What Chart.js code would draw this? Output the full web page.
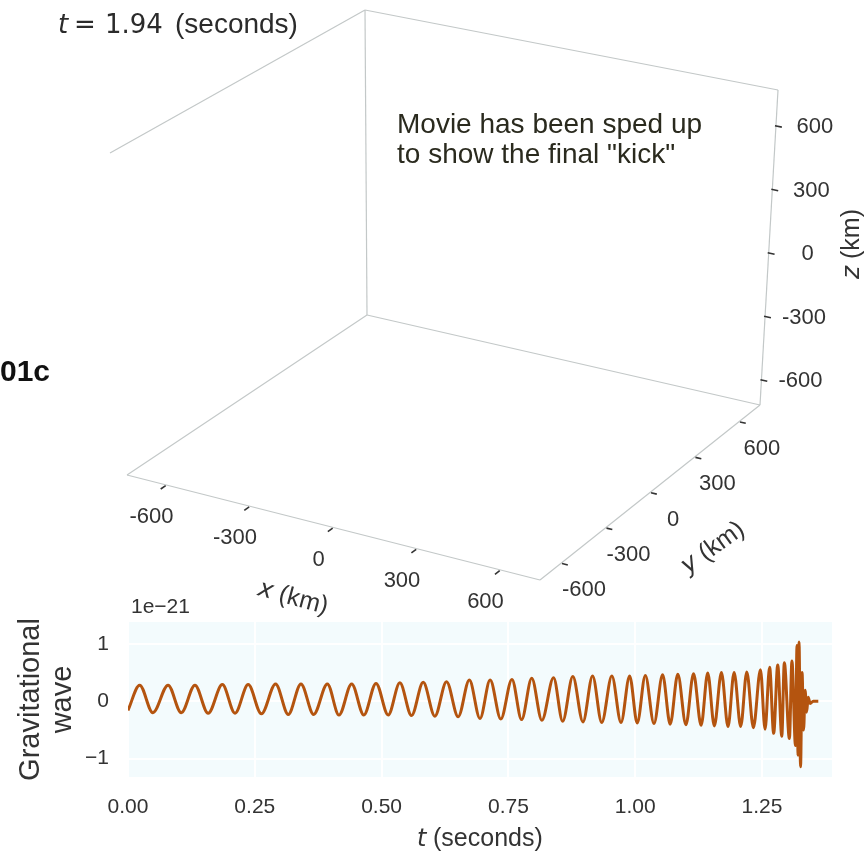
<!DOCTYPE html>
<html>
<head>
<meta charset="utf-8">
<script src="https://cdn.jsdelivr.net/npm/chart.js@4.4.0/dist/chart.umd.min.js"></script>
<style>
  html, body { margin: 0; padding: 0; background: #fff; }
  #wrap { position: relative; width: 865px; height: 853px; }
</style>
</head>
<body>
<div id="wrap"><canvas id="c" width="865" height="853"></canvas></div>
<script>
// strain trace (units of 1e-21) against time in seconds, one point per crest / trough
const waveT = [
  0, 0.023, 0.049, 0.079, 0.105, 0.132, 0.158, 0.186, 0.211, 0.237,
  0.263, 0.291, 0.316, 0.341, 0.366, 0.393, 0.416, 0.441, 0.465, 0.489,
  0.513, 0.536, 0.559, 0.582, 0.605, 0.628, 0.651, 0.673, 0.694, 0.714,
  0.735, 0.757, 0.776, 0.796, 0.816, 0.839, 0.857, 0.877, 0.897, 0.916,
  0.934, 0.954, 0.972, 0.989, 1.004, 1.020, 1.037, 1.054, 1.069, 1.084,
  1.100, 1.115, 1.130, 1.143, 1.156, 1.170, 1.183, 1.195, 1.208, 1.220,
  1.233, 1.247, 1.256, 1.265, 1.273, 1.281, 1.289, 1.294, 1.304, 1.309,
  1.316, 1.319, 1.321, 1.323, 1.326, 1.329, 1.332, 1.335, 1.338, 1.341,
  1.345, 1.351, 1.361
];
const waveH = [
  -0.16, 0.28, -0.20, 0.28, -0.20, 0.28, -0.21, 0.29, -0.21, 0.29,
  -0.22, 0.30, -0.23, 0.30, -0.23, 0.30, -0.24, 0.30, -0.24, 0.31,
  -0.24, 0.32, -0.25, 0.33, -0.26, 0.34, -0.27, 0.37, -0.30, 0.37,
  -0.31, 0.38, -0.32, 0.40, -0.33, 0.41, -0.35, 0.43, -0.36, 0.44,
  -0.37, 0.44, -0.37, 0.44, -0.38, 0.45, -0.39, 0.46, -0.40, 0.47,
  -0.41, 0.48, -0.42, 0.49, -0.43, 0.50, -0.44, 0.50, -0.44, 0.51,
  -0.46, 0.55, -0.49, 0.59, -0.56, 0.63, -0.61, 0.67, -0.65, 0.70,
  -0.77, 0.97, -0.94, 1.03, -1.14, 0.50, -0.50, 0.19, -0.19, 0.07,
  -0.04, 0, 0
];
const timeTicks = [0, 0.25, 0.5, 0.75, 1.0, 1.25];
const strainTicks = [-1, 0, 1];

// 3d box (km)
const kmTicks = [-600, -300, 0, 300, 600];
const xLim = [-742, 742];
const yLim = [-742, 742];
const zLim = [-718, 770];

Chart.defaults.font.family = "'Liberation Sans', Arial, sans-serif";
Chart.defaults.color = "#333";

const SANS = "'Liberation Sans', Arial, sans-serif";
const MATH = "'DejaVu Sans', sans-serif";

// screen position of each box corner, key = x,y,z end (0 low, 1 high)
const boxCorners = {
  "000": [127, 475], "100": [540, 580], "110": [760, 405], "010": [367, 315],
  "001": [110, 153], "101": [523, 258], "111": [778, 90], "011": [365, 10]
};
const boxEdges = [
  ["011", "001"], ["011", "111"], ["011", "010"], ["111", "110"],
  ["010", "110"], ["010", "000"], ["000", "100"], ["100", "110"]
];

function project(x, y, z) {
  const u = (x - xLim[0]) / (xLim[1] - xLim[0]);
  const v = (y - yLim[0]) / (yLim[1] - yLim[0]);
  const w = (z - zLim[0]) / (zLim[1] - zLim[0]);
  let px = 0, py = 0;
  for (const k in boxCorners) {
    const wt = (k[0] === "1" ? u : 1 - u) * (k[1] === "1" ? v : 1 - v) * (k[2] === "1" ? w : 1 - w);
    px += wt * boxCorners[k][0];
    py += wt * boxCorners[k][1];
  }
  return [px, py];
}

function unit(a, b) {
  const dx = b[0] - a[0], dy = b[1] - a[1];
  const n = Math.hypot(dx, dy);
  return [dx / n, dy / n];
}

// text made of pieces, some italic; drawn centred on (cx, cy) after rotation
function mixedText(ctx, parts, cx, cy, size, angle) {
  ctx.save();
  ctx.translate(cx, cy);
  ctx.rotate(angle);
  ctx.textBaseline = "middle";
  ctx.textAlign = "left";
  const fontOf = p => (p.italic ? "italic " + size + "px " + MATH : size + "px " + SANS);
  let total = 0;
  const widths = parts.map(p => {
    ctx.font = fontOf(p);
    const w = ctx.measureText(p.text).width;
    total += w;
    return w;
  });
  let x = -total / 2;
  parts.forEach((p, i) => {
    ctx.font = fontOf(p);
    ctx.fillText(p.text, x, 0);
    x += widths[i];
  });
  ctx.restore();
}

const plotBackground = {
  id: "plotBackground",
  beforeDraw(chart) {
    const { ctx, chartArea: a } = chart;
    ctx.save();
    ctx.fillStyle = "#f3fbfd";
    ctx.fillRect(a.left, a.top, a.right - a.left, a.bottom - a.top);
    ctx.restore();
  }
};

const boxAndText = {
  id: "boxAndText",
  afterDraw(chart) {
    const ctx = chart.ctx;
    ctx.save();

    // pane edges
    ctx.strokeStyle = "#c3c8c8";
    ctx.lineWidth = 1.2;
    boxEdges.forEach(([a, b]) => {
      ctx.beginPath();
      ctx.moveTo(boxCorners[a][0], boxCorners[a][1]);
      ctx.lineTo(boxCorners[b][0], boxCorners[b][1]);
      ctx.stroke();
    });

    ctx.strokeStyle = "#333";
    ctx.lineWidth = 1.6;
    ctx.fillStyle = "#333";
    ctx.font = "22px " + SANS;
    ctx.textAlign = "center";
    ctx.textBaseline = "middle";

    // x axis along the front bottom edge
    kmTicks.forEach(v => {
      const p = project(v, yLim[0], zLim[0]);
      const d = unit(p, project(v, yLim[0] - 100, zLim[0]));
      ctx.beginPath();
      ctx.moveTo(p[0] + d[0], p[1] + d[1]);
      ctx.lineTo(p[0] + d[0] * 7, p[1] + d[1] * 7);
      ctx.stroke();
      ctx.fillText(String(v), p[0] - 15, p[1] + 32);
    });
    // y axis along the right bottom edge
    kmTicks.forEach(v => {
      const p = project(xLim[1], v, zLim[0]);
      const d = unit(p, project(xLim[1] + 100, v, zLim[0]));
      ctx.beginPath();
      ctx.moveTo(p[0] + d[0], p[1] + d[1]);
      ctx.lineTo(p[0] + d[0] * 7, p[1] + d[1] * 7);
      ctx.stroke();
      ctx.fillText(String(v), p[0] + 23, p[1] + 27);
    });
    // z axis on the back right edge
    kmTicks.forEach(v => {
      const p = project(xLim[1], yLim[1], v);
      const d = unit(p, project(xLim[1] + 100, yLim[1], v));
      ctx.beginPath();
      ctx.moveTo(p[0] - d[0], p[1] - d[1]);
      ctx.lineTo(p[0] + d[0] * 6, p[1] + d[1] * 6);
      ctx.stroke();
      ctx.fillText(String(v), p[0] + 39, p[1] + 1);
    });

    mixedText(ctx, [{ text: "x", italic: true }, { text: " (km)" }], 293, 598, 25, 15 * Math.PI / 180);
    mixedText(ctx, [{ text: "y", italic: true }, { text: " (km)" }], 713, 548, 25, -36 * Math.PI / 180);
    mixedText(ctx, [{ text: "z", italic: true }, { text: " (km)" }], 852, 244, 25, -Math.PI / 2);

    // time stamp
    ctx.fillStyle = "#2b2b2b";
    ctx.textAlign = "left";
    ctx.textBaseline = "alphabetic";
    ctx.font = "italic 26px " + MATH;
    ctx.fillText("t", 58, 33);
    ctx.font = "26px " + MATH;
    ctx.fillText("=", 74, 33);
    ctx.fillText("1.94", 105, 33);
    ctx.font = "28px " + SANS;
    ctx.fillText("(seconds)", 175, 33);

    // note inside the box
    ctx.fillStyle = "#2a2a1e";
    ctx.fillText("Movie has been sped up", 397, 133);
    ctx.fillText("to show the final \"kick\"", 397, 163);

    // run tag
    ctx.fillStyle = "#111";
    ctx.font = "bold 30px " + SANS;
    ctx.fillText("01c", 0, 381);

    // strain scale and time axis title
    ctx.fillStyle = "#333";
    ctx.font = "21px " + SANS;
    ctx.textBaseline = "middle";
    ctx.fillText("1e\u221221", 131, 607);
    ctx.textBaseline = "alphabetic";
    ctx.font = "italic 24px " + MATH;
    ctx.fillText("t", 417, 846);
    ctx.font = "25px " + SANS;
    ctx.fillText("(seconds)", 433, 846);

    ctx.restore();
  }
};

const ctx = document.getElementById("c").getContext("2d");
new Chart(ctx, {
  type: "line",
  data: {
    datasets: [{
      data: waveT.map((t, i) => ({ x: t, y: waveH[i] })),
      borderColor: "#b4540f",
      borderWidth: 3,
      pointRadius: 0,
      cubicInterpolationMode: "monotone",
      fill: false
    }]
  },
  options: {
    responsive: false,
    animation: false,
    events: [],
    layout: { padding: { left: 0, right: 33, top: 622, bottom: 0 } },
    plugins: { legend: { display: false }, tooltip: { enabled: false } },
    scales: {
      x: {
        type: "linear",
        min: 0,
        max: 1.388,
        afterBuildTicks: s => { s.ticks = timeTicks.map(v => ({ value: v })); },
        afterFit: s => { s.height = 76; },
        grid: { color: "#ffffff", lineWidth: 2, drawTicks: false },
        border: { display: false },
        ticks: { padding: 18, color: "#333", font: { size: 21 }, maxRotation: 0, callback: v => Number(v).toFixed(2) }
      },
      y: {
        type: "linear",
        min: -1.32,
        max: 1.38,
        afterBuildTicks: s => { s.ticks = strainTicks.map(v => ({ value: v })); },
        afterFit: s => { s.width = 128; },
        grid: { color: "#ffffff", lineWidth: 2, drawTicks: false },
        border: { display: false },
        ticks: { padding: 19, color: "#333", font: { size: 21 }, callback: v => (v < 0 ? "\u2212" + Math.abs(v) : String(v)) },
        title: {
          display: true,
          text: ["Gravitational", "wave"],
          color: "#333",
          font: { size: 29, lineHeight: 1.1 },
          padding: { top: 15, bottom: 0 }
        }
      }
    }
  },
  plugins: [plotBackground, boxAndText]
});
</script>
</body>
</html>
